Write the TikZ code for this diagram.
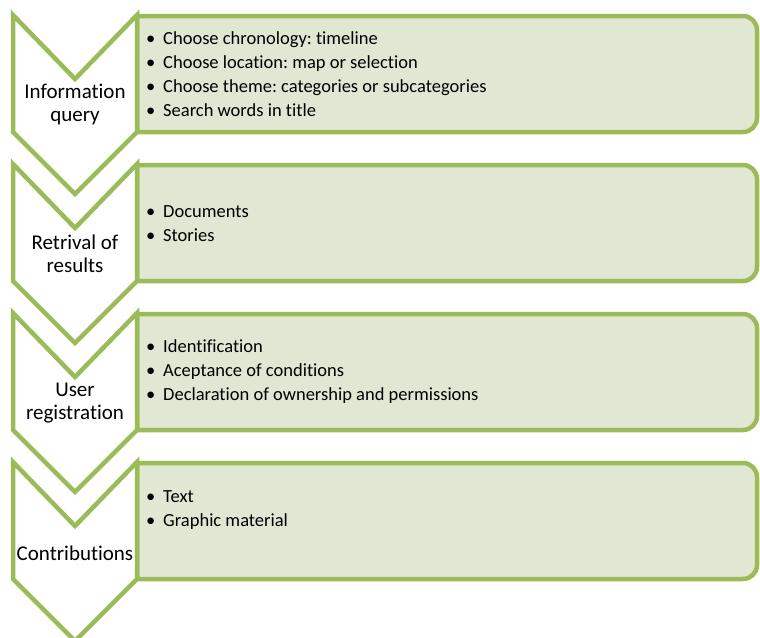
\documentclass[tikz,border=0pt]{standalone}
\usepackage{fontspec}
\setmainfont{Carlito}[Ligatures=NoCommon]
\frenchspacing
\definecolor{stagegreen}{HTML}{9BBB59}
\definecolor{stagefill}{HTML}{E0E8D3}
\tikzset{
  chevron/.style={draw=stagegreen, line width=4.5pt, fill=white},
  listbox/.style={draw=stagegreen, line width=4.5pt, fill=stagefill},
  steplabel/.style={align=center, font=\fontsize{21}{23}\selectfont, inner sep=0pt},
  steplist/.style={anchor=west, align=left, font=\fontsize{18.5}{24}\selectfont, inner sep=0pt}
}
\newcommand{\bitem}[1]{\makebox[17pt][l]{•}#1}

\begin{document}
\begin{tikzpicture}[x=1pt,y=-1pt]
\useasboundingbox (0,0) rectangle (760,637);
\clip (0,0) rectangle (760,637);
% boxes and chevrons, one pair per stage
\foreach \t in {15,164,313,462}
{
\draw[listbox] (137,\t+1) -- (743,\t+1) arc[start angle=-90, end angle=0, radius=14]
  -- (757,\t+103) arc[start angle=0, end angle=90, radius=14] -- (137,\t+117) -- cycle;
\draw[chevron] (13,\t) -- (75,\t+64) -- (137,\t) -- (137,\t+117) -- (75,\t+179) -- (13,\t+117) -- cycle;
}
% stage names
\node[steplabel] (query) at (75,104) {Information\\query};
\node[steplabel] (results) at (75,254) {Retrival of\\results};
\node[steplabel] (registration) at (75,403) {User\\registration};
\node[steplabel] (contrib) at (75,553) {Contributions};
% stage contents
\node[steplist] (querylist) at (146,74) {\bitem{Choose chronology: timeline}\\
  \bitem{Choose location: map or selection}\\
  \bitem{Choose theme: categories or subcategories}\\
  \bitem{Search words in title}};
\node[steplist] (resultslist) at (146,224) {\bitem{Documents}\\
  \bitem{Stories}};
\node[steplist] (registrationlist) at (146,372) {\bitem{Identification}\\
  \bitem{Aceptance of conditions}\\
  \bitem{Declaration of ownership and permissions}};
\node[steplist] (contriblist) at (146,510) {\bitem{Text}\\
  \bitem{Graphic material}};
\end{tikzpicture}
\end{document}
